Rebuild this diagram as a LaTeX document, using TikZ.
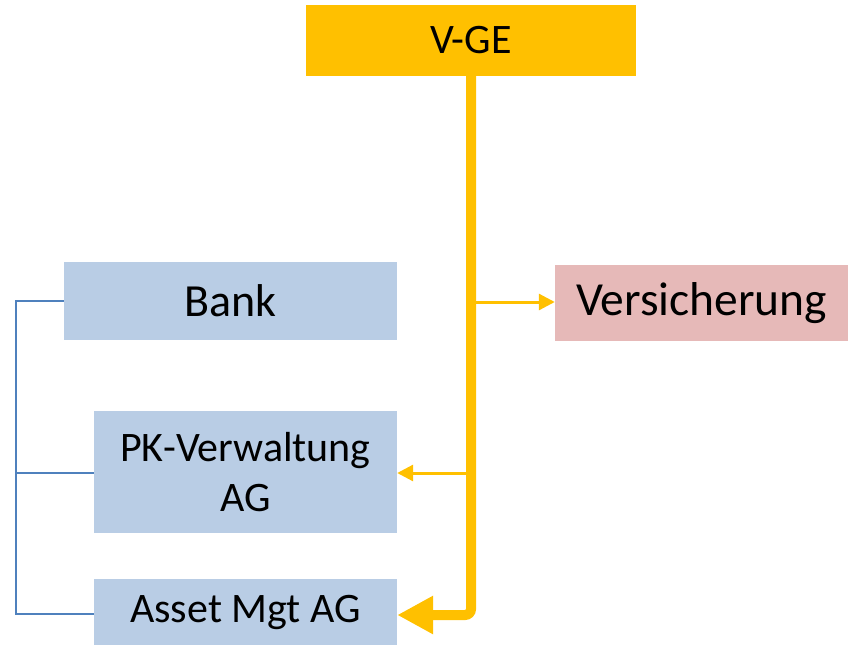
\documentclass[tikz,border=0pt]{standalone}
\usepackage{fontspec}
\setmainfont{Carlito}
\usetikzlibrary{arrows.meta}
\definecolor{gold}{HTML}{FFC000}
\definecolor{lblue}{HTML}{B9CDE5}
\definecolor{lpink}{HTML}{E6B9B8}
\definecolor{lineblue}{HTML}{4F81BD}
\begin{document}
\begin{tikzpicture}[x=1pt,y=-1pt,
  box/.style={rectangle, inner sep=0pt, align=center, text=black},
  bluebox/.style={box, fill=lblue},
  trunk/.style={draw=gold, line width=10pt},
  thinarrow/.style={draw=gold, line width=3pt, -{Triangle[width=16pt,length=16pt]}},
  tree/.style={draw=lineblue, line width=2pt}]
\useasboundingbox (0,0) rectangle (848,645);
\node[box, fill=gold, minimum width=330pt, minimum height=71pt, font=\fontsize{42}{48}\selectfont] (vge) at (471,40.5) {V-GE};
\node[bluebox, minimum width=333pt, minimum height=78pt, font=\fontsize{46}{52}\selectfont] (bank) at (230.5,301) {Bank};
\node[box, fill=lpink, minimum width=293pt, minimum height=76pt, font=\fontsize{47.5}{52}\selectfont] (vers) at (701.5,303) {Versicherung};
\node[bluebox, minimum width=303pt, minimum height=122pt, font=\fontsize{42}{50}\selectfont] (pk) at (245.5,472) {PK-Verwaltung\\AG};
\node[bluebox, minimum width=303pt, minimum height=66pt, font=\fontsize{42}{48}\selectfont] (asset) at (245.5,612) {Asset Mgt AG};
% trunk
\coordinate (jv) at (471,302);
\coordinate (jp) at (471,473);
\draw[trunk, rounded corners=6pt, -{Triangle[width=36pt,length=36pt]}] (vge.south) |- ([yshift=-3pt]asset.east);
\draw[thinarrow] (jv) -- (vers.west |- jv);
\draw[thinarrow] (jp) -- (pk.east |- jp);
% blue tree
\coordinate (lt) at (16,301);
\coordinate (pkw) at ([yshift=-1pt]pk.west);
\draw[tree] (bank.west) -- (lt) |- ([yshift=-2pt]asset.west);
\draw[tree] (pkw) -- (lt |- pkw);
\end{tikzpicture}
\end{document}
